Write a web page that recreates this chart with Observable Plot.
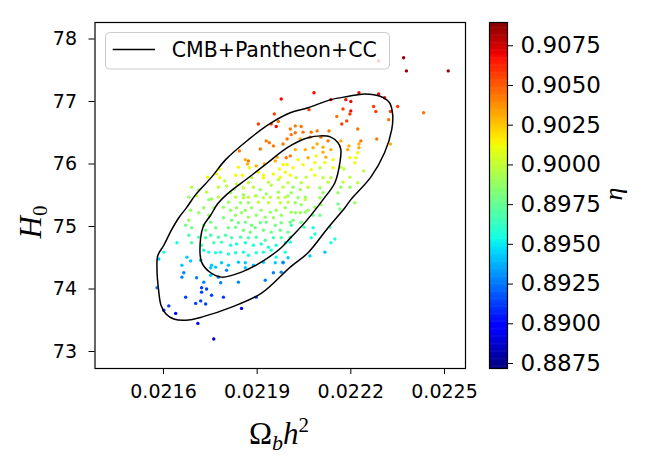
<!DOCTYPE html>
<html><head><meta charset="utf-8">
<script src="https://cdn.jsdelivr.net/npm/d3@7"></script>
<script src="https://cdn.jsdelivr.net/npm/@observablehq/plot@0.6"></script>
<style>
body{margin:0;background:#fff;}
#wrap{position:relative;width:650px;height:465px;overflow:hidden;}
#wrap > svg{position:absolute;left:0;top:0;}
</style></head><body><div id="wrap"></div>
<script>
// ---- data ----
const xTicks = [0.0216, 0.0219, 0.0222, 0.0225];
const yTicks = [73, 74, 75, 76, 77, 78];
const etaTicks = [0.8875, 0.8900, 0.8925, 0.8950, 0.8975, 0.9000, 0.9025, 0.9050, 0.9075];
const etaDomain = [0.887186, 0.908964];
const legendLabel = "CMB+Pantheon+CC";
// [Omega_b h^2, H0, eta]
const chainSamples = [
[0.022369,77.70,0.9085],[0.022378,77.49,0.9085],[0.022512,77.49,0.9085],[0.022289,77.65,0.9068],
[0.022082,77.14,0.9068],[0.022226,77.14,0.9068],[0.022289,77.12,0.9068],[0.022308,77.06,0.9068],
[0.022136,77.03,0.9068],[0.022184,77.03,0.9068],[0.022200,77.00,0.9068],[0.021977,77.04,0.9068],
[0.021955,76.80,0.9056],[0.022066,76.87,0.9056],[0.022175,76.88,0.9056],[0.022200,76.85,0.9068],
[0.022197,76.80,0.9056],[0.022273,76.92,0.9056],[0.022280,76.84,0.9056],[0.022327,76.84,0.9056],
[0.022350,76.92,0.9056],[0.022433,76.82,0.9043],[0.022155,76.76,0.9043],[0.022187,76.69,0.9056],
[0.022171,76.64,0.9056],[0.022321,76.71,0.9043],[0.021904,76.64,0.9056],[0.021945,76.64,0.9056],
[0.021968,76.68,0.9043],[0.021961,76.60,0.9068],[0.022222,76.56,0.9043],[0.022130,76.53,0.9043],
[0.022006,76.56,0.9043],[0.022041,76.60,0.9043],[0.022022,76.61,0.9043],[0.022047,76.51,0.9043],
[0.022022,76.50,0.9043],[0.022073,76.51,0.9043],[0.022092,76.53,0.9043],[0.022009,76.47,0.9043],
[0.021929,76.37,0.9043],[0.021939,76.34,0.9043],[0.021952,76.29,0.9043],[0.021910,76.24,0.9043],
[0.021996,76.40,0.9043],[0.021983,76.32,0.9043],[0.022283,76.40,0.9043],[0.022327,76.32,0.9030],
[0.022194,76.29,0.9030],[0.022226,76.32,0.9030],[0.022232,76.37,0.9043],[0.022168,76.37,0.9030],
[0.022038,76.40,0.9030],[0.022069,76.43,0.9043],[0.022104,76.43,0.9043],[0.022127,76.37,0.9043],
[0.022092,76.32,0.9030],[0.022111,76.27,0.9030],[0.022079,76.26,0.9030],[0.022054,76.23,0.9030],
[0.022022,76.23,0.9030],[0.021843,76.21,0.9043],[0.022136,76.23,0.9030],[0.022190,76.23,0.9030],
[0.022226,76.26,0.9030],[0.022111,76.19,0.9030],[0.022120,76.11,0.9030],[0.022089,76.13,0.9012],
[0.022063,76.10,0.9030],[0.022031,76.07,0.9012],[0.022006,76.13,0.9043],[0.021993,76.10,0.9043],
[0.021964,76.11,0.9030],[0.021958,76.05,0.9030],[0.022143,76.07,0.9012],[0.022117,76.02,0.9012],
[0.022085,76.02,0.9012],[0.022047,75.99,0.9012],[0.022015,75.94,0.9012],[0.022073,75.91,0.9012],
[0.022101,75.94,0.8998],[0.022168,75.95,0.8998],[0.022178,75.92,0.8998],[0.022143,75.94,0.9012],
[0.022197,76.10,0.9012],[0.022216,76.10,0.9012],[0.022222,76.18,0.9012],[0.021862,76.07,0.9030],
[0.021872,76.05,0.9043],[0.021869,76.00,0.9030],[0.021875,75.94,0.9012],[0.021840,75.95,0.9012],
[0.021780,75.92,0.9012],[0.021897,75.97,0.9030],[0.021923,76.00,0.9030],[0.021983,75.99,0.9012],
[0.021996,75.99,0.9012],[0.021971,75.92,0.9012],[0.022213,76.02,0.9012],[0.022241,75.89,0.8998],
[0.021741,75.79,0.9012],[0.021770,75.84,0.9012],[0.021780,75.78,0.9012],[0.021831,75.82,0.9012],
[0.021853,75.82,0.9012],[0.021990,75.87,0.9012],[0.021952,75.84,0.9012],[0.021920,75.82,0.9012],
[0.021904,75.87,0.9012],[0.021974,75.79,0.9012],[0.022006,75.82,0.9012],[0.021882,75.78,0.8998],
[0.021920,75.78,0.9012],[0.021936,75.71,0.8998],[0.021690,75.63,0.8998],[0.021713,75.59,0.8988],
[0.021776,75.63,0.8998],[0.021738,75.55,0.8998],[0.021872,75.70,0.8998],[0.021888,75.63,0.8998],
[0.021910,75.59,0.8988],[0.021945,75.66,0.8998],[0.021983,75.63,0.8998],[0.021999,75.70,0.8998],
[0.021815,75.54,0.8988],[0.021856,75.51,0.8988],[0.021897,75.49,0.8988],[0.021929,75.52,0.8988],
[0.021968,75.55,0.8988],[0.021999,75.49,0.8988],[0.021754,75.44,0.8988],[0.021706,75.49,0.8998],
[0.022197,75.79,0.8998],[0.022222,75.70,0.8998],[0.022175,75.71,0.8998],[0.022197,75.63,0.8988],
[0.022168,75.63,0.8988],[0.022136,75.78,0.8998],[0.022111,75.78,0.8998],[0.022127,75.71,0.8998],
[0.022085,75.82,0.9012],[0.022057,75.79,0.8998],[0.022025,75.78,0.8998],[0.022041,75.70,0.8998],
[0.022015,75.63,0.8988],[0.022063,75.63,0.8998],[0.022101,75.62,0.8988],[0.022111,75.54,0.8988],
[0.022038,75.59,0.8988],[0.022009,75.54,0.8988],[0.022054,75.47,0.8988],[0.022159,75.54,0.8988],
[0.021681,75.47,0.8988],[0.021796,75.73,0.8998],[0.021834,75.68,0.8998],[0.021856,75.62,0.8998],
[0.021827,75.60,0.8988],[0.021802,75.65,0.8998],[0.021968,75.75,0.8998],[0.021776,75.47,0.8998],
[0.021831,75.47,0.8998],[0.021856,75.46,0.8998],[0.021872,75.47,0.8998],[0.021894,75.49,0.8998],
[0.021920,75.46,0.8998],[0.021942,75.47,0.8998],[0.021968,75.46,0.8998],[0.021990,75.47,0.8998],
[0.021745,75.43,0.8988],[0.021808,75.39,0.8988],[0.021847,75.38,0.8988],[0.021872,75.38,0.8988],
[0.021904,75.39,0.8998],[0.021936,75.38,0.8998],[0.021974,75.38,0.8998],[0.021999,75.39,0.8998],
[0.021687,75.26,0.8988],[0.021729,75.30,0.8988],[0.021761,75.30,0.8988],[0.021792,75.31,0.8988],
[0.021815,75.26,0.8988],[0.021834,75.30,0.8988],[0.021862,75.26,0.8988],[0.021882,75.30,0.8988],
[0.021913,75.26,0.8988],[0.021942,75.23,0.8988],[0.021961,75.26,0.8988],[0.021990,75.30,0.8988],
[0.022009,75.23,0.8988],[0.021713,75.22,0.8988],[0.021745,75.18,0.8988],[0.021831,75.18,0.8988],
[0.021850,75.22,0.8988],[0.021872,75.15,0.8988],[0.021897,75.18,0.8988],[0.021926,75.15,0.8988],
[0.021952,75.14,0.8988],[0.021977,75.18,0.8988],[0.021671,75.02,0.8978],[0.021681,75.10,0.8988],
[0.021690,74.98,0.8978],[0.021729,75.02,0.8978],[0.021751,75.07,0.8978],[0.021792,75.14,0.8978],
[0.021818,75.10,0.8978],[0.021840,75.06,0.8978],[0.021862,75.07,0.8978],[0.021882,75.02,0.8978],
[0.021910,75.06,0.8978],[0.021929,75.07,0.8978],[0.021958,75.02,0.8978],[0.021977,75.06,0.8978],
[0.022006,75.07,0.8978],[0.021735,74.94,0.8978],[0.021767,74.98,0.8978],[0.021808,74.98,0.8978],
[0.021831,74.99,0.8978],[0.021856,74.94,0.8978],[0.021878,74.91,0.8978],[0.021894,74.98,0.8978],
[0.021920,74.94,0.8978],[0.021945,74.91,0.8978],[0.021974,74.94,0.8978],[0.021999,74.91,0.8978],
[0.021681,74.86,0.8967],[0.021713,74.83,0.8967],[0.021735,74.82,0.8967],[0.021751,74.86,0.8967],
[0.021776,74.83,0.8967],[0.021799,74.86,0.8967],[0.021818,74.82,0.8967],[0.021847,74.83,0.8967],
[0.021872,74.82,0.8967],[0.021897,74.83,0.8967],[0.021926,74.78,0.8967],[0.021952,74.82,0.8967],
[0.021977,74.82,0.8967],[0.022006,74.83,0.8967],[0.021643,74.74,0.8955],[0.021690,74.74,0.8967],
[0.021722,74.70,0.8967],[0.021761,74.74,0.8967],[0.021786,74.75,0.8967],[0.021815,74.70,0.8955],
[0.021834,74.72,0.8955],[0.021862,74.74,0.8955],[0.021888,74.70,0.8955],[0.021913,74.72,0.8955],
[0.021936,74.67,0.8955],[0.021961,74.70,0.8955],[0.021990,74.74,0.8955],[0.021601,74.59,0.8955],
[0.021729,74.62,0.8955],[0.021745,74.59,0.8955],[0.021767,74.58,0.8955],[0.021783,74.59,0.8955],
[0.021808,74.56,0.8955],[0.021831,74.58,0.8955],[0.021856,74.59,0.8955],[0.021872,74.54,0.8955],
[0.021897,74.58,0.8955],[0.021920,74.59,0.8955],[0.021945,74.62,0.8955],[0.021961,74.51,0.8955],
[0.021990,74.59,0.8955],[0.021675,74.51,0.8942],[0.021687,74.45,0.8942],[0.021659,74.38,0.8942],
[0.021585,74.48,0.8942],[0.021719,74.46,0.8942],[0.021754,74.38,0.8942],[0.021767,74.35,0.8942],
[0.021751,74.34,0.8942],[0.021786,74.42,0.8942],[0.021808,74.38,0.8942],[0.021840,74.43,0.8942],
[0.021862,74.42,0.8942],[0.021888,74.38,0.8942],[0.021920,74.43,0.8942],[0.021958,74.42,0.8942],
[0.021983,74.43,0.8942],[0.021665,74.26,0.8927],[0.021659,74.19,0.8927],[0.021706,74.18,0.8927],
[0.021729,74.11,0.8927],[0.021751,74.22,0.8942],[0.021776,74.19,0.8927],[0.021802,74.30,0.8927],
[0.021862,74.34,0.8942],[0.021952,74.26,0.8927],[0.021977,74.27,0.8927],[0.021783,74.10,0.8927],
[0.021840,74.11,0.8927],[0.021926,74.14,0.8927],[0.021579,74.02,0.8927],[0.021722,74.02,0.8912],
[0.021738,74.00,0.8912],[0.021722,73.95,0.8912],[0.021671,73.87,0.8912],[0.021754,73.90,0.8912],
[0.021792,73.87,0.8912],[0.021897,73.87,0.8912],[0.021719,73.81,0.8912],[0.021703,73.77,0.8912],
[0.021735,73.76,0.8912],[0.021617,73.73,0.8912],[0.021601,73.66,0.8912],[0.021639,73.61,0.8900],
[0.021850,73.69,0.8900],[0.021710,73.45,0.8900],[0.021761,73.20,0.8885],[0.022031,75.46,0.8988],
[0.022054,75.43,0.8998],[0.022101,75.46,0.8988],[0.022022,75.38,0.8988],[0.022041,75.35,0.8988],
[0.022085,75.31,0.8988],[0.022104,75.35,0.8988],[0.022159,75.36,0.8978],[0.022165,75.28,0.8978],
[0.022213,75.38,0.8988],[0.022022,75.22,0.8988],[0.022038,75.22,0.8988],[0.022054,75.23,0.8988],
[0.022063,75.26,0.8988],[0.022079,75.18,0.8978],[0.022101,75.18,0.8978],[0.022015,75.10,0.8978],
[0.022041,75.07,0.8978],[0.022050,74.99,0.8967],[0.022009,75.02,0.8967],[0.022079,74.98,0.8955],
[0.022085,74.88,0.8955],[0.022073,74.82,0.8955],[0.022133,74.99,0.8967],[0.022149,74.80,0.8955],
[0.022136,74.74,0.8955],[0.022006,74.75,0.8955],[0.022117,74.59,0.8942],[0.022069,74.53,0.8942],
[0.021999,74.50,0.8942],[0.021983,74.42,0.8927]
];
// confidence contours [Omega_b h^2, H0]
const contour95 = [
[0.021579,74.34],[0.021582,74.54],[0.021601,74.70],[0.021624,74.93],[0.021649,75.14],[0.021675,75.31],
[0.021703,75.51],[0.021754,75.79],[0.021799,76.07],[0.021872,76.39],[0.021936,76.63],[0.022006,76.82],
[0.022063,76.90],[0.022136,77.03],[0.022190,77.08],[0.022245,77.12],[0.022296,77.08],[0.022324,76.98],
[0.022334,76.79],[0.022331,76.55],[0.022308,76.18],[0.022264,75.79],[0.022200,75.43],[0.022181,75.30],
[0.022127,74.98],[0.022063,74.58],[0.022006,74.35],[0.021913,73.93],[0.021818,73.71],[0.021722,73.55],
[0.021671,73.50],[0.021633,73.52],[0.021608,73.60],[0.021592,73.74],[0.021585,73.95]
];
const contour68 = [
[0.021722,74.43],[0.021719,74.82],[0.021729,75.02],[0.021751,75.18],[0.021773,75.36],[0.021802,75.51],
[0.021872,75.78],[0.021926,75.99],[0.021999,76.27],[0.022063,76.42],[0.022104,76.45],[0.022136,76.43],
[0.022159,76.34],[0.022168,76.23],[0.022165,76.02],[0.022149,75.70],[0.022111,75.43],[0.022054,75.07],
[0.022009,74.83],[0.021977,74.66],[0.021913,74.43],[0.021850,74.27],[0.021786,74.19],[0.021751,74.26]
];

// ---- jet colormap (matplotlib segment data) ----
function jet(t){
  t = Math.max(0, Math.min(1, t));
  const seg = (pts) => { for (let i = 1; i < pts.length; i++) { if (t <= pts[i][0]) { const [a, va] = pts[i-1], [b, vb] = pts[i]; return va + (vb - va) * (t - a) / (b - a); } } return pts[pts.length-1][1]; };
  const r = seg([[0,0],[0.35,0],[0.66,1],[0.89,1],[1,0.5]]);
  const g = seg([[0,0],[0.125,0],[0.375,1],[0.64,1],[0.91,0],[1,0]]);
  const b = seg([[0,0.5],[0.11,1],[0.34,1],[0.65,0],[1,0]]);
  return `rgb(${Math.round(r*255)},${Math.round(g*255)},${Math.round(b*255)})`;
}
const colorScale = {type: "linear", domain: etaDomain, interpolate: jet};

const wrap = document.getElementById("wrap");

const main = Plot.plot({
  width: 650, height: 465,
  marginLeft: 94.5, marginRight: 185, marginTop: 22, marginBottom: 97,
  x: {domain: [0.0213806, 0.0225673]},
  y: {domain: [72.728, 78.264]},
  color: colorScale,
  style: {background: "transparent", fontFamily: "'DejaVu Sans', sans-serif", fontSize: "19px", color: "black", overflow: "visible"},
  marks: [
    Plot.dot(chainSamples, {x: d => d[0], y: d => d[1], fill: d => d[2], r: 1.7}),
    Plot.line(contour95, {x: d => d[0], y: d => d[1], curve: "catmull-rom-closed", stroke: "black", strokeWidth: 1.5}),
    Plot.line(contour68, {x: d => d[0], y: d => d[1], curve: "catmull-rom-closed", stroke: "black", strokeWidth: 1.5}),
    Plot.frame({stroke: "black", strokeWidth: 1.2}),
    Plot.axisX({ticks: xTicks, tickFormat: d => d.toFixed(4), tickSize: 6, tickPadding: 10, label: null, fontSize: 19}),
    Plot.axisY({ticks: yTicks, tickFormat: d => String(d), tickSize: 6, tickPadding: 12, label: null, fontSize: 19})
  ]
});
wrap.appendChild(main);

const steps = d3.range(0, 300).map(i => [etaDomain[0] + (etaDomain[1]-etaDomain[0]) * i / 300, etaDomain[0] + (etaDomain[1]-etaDomain[0]) * (i + 1.5) / 300]);
const cbar = Plot.plot({
  width: 650, height: 465,
  marginLeft: 489, marginRight: 143, marginTop: 22, marginBottom: 97,
  x: {domain: [0, 1], axis: null},
  y: {domain: etaDomain, axis: null},
  color: colorScale,
  style: {background: "transparent", fontFamily: "'DejaVu Sans', sans-serif", fontSize: "23px", color: "black", overflow: "visible"},
  marks: [
    Plot.rect(steps, {x1: 0, x2: 1, y1: d => d[0], y2: d => Math.min(d[1], etaDomain[1]), fill: d => d[0]}),
    Plot.frame({stroke: "black", strokeWidth: 1.2}),
    Plot.axisY({anchor: "right", ticks: etaTicks, tickFormat: d => d.toFixed(4), tickSize: 5, tickPadding: 8, label: null, fontSize: 23})
  ]
});
wrap.appendChild(cbar);

// legend, axis labels
const svg = d3.select(cbar);
const lg = svg.append("g").attr("text-anchor", "start");
lg.append("rect").attr("x", 105.5).attr("y", 32.5).attr("width", 284).attr("height", 36.5).attr("rx", 4)
  .attr("fill", "white").attr("fill-opacity", 0.8).attr("stroke", "#cccccc").attr("stroke-width", 1);
lg.append("line").attr("x1", 112.7).attr("x2", 155).attr("y1", 49.5).attr("y2", 49.5).attr("stroke", "black").attr("stroke-width", 1.4);
lg.append("text").attr("x", 171.7).attr("y", 56.7).attr("text-anchor", "start").attr("font-family", "'DejaVu Sans', sans-serif").attr("font-size", 20.5).attr("fill", "black").text(legendLabel);

const serif = "'Liberation Serif', 'DejaVu Serif', serif";
const xl = svg.append("text").attr("x", 279).attr("y", 444).attr("text-anchor", "middle").attr("font-family", serif).attr("font-size", 31).attr("fill", "black");
xl.append("tspan").text("Ω");
xl.append("tspan").attr("font-style", "italic").attr("font-size", 22).attr("dy", 6).text("b");
xl.append("tspan").attr("font-style", "italic").attr("dy", -6).text("h");
xl.append("tspan").attr("font-size", 21).attr("dy", -12).text("2");

const yl = svg.append("text").attr("transform", "translate(41,222) rotate(-90)").attr("text-anchor", "middle").attr("font-family", serif).attr("font-size", 31).attr("fill", "black");
yl.append("tspan").attr("font-style", "italic").text("H");
yl.append("tspan").attr("font-size", 21).attr("dy", 6).text("0");

svg.append("text").attr("transform", "translate(622,194) rotate(-90)").attr("text-anchor", "middle").attr("font-family", serif).attr("font-style", "italic").attr("font-size", 26).attr("fill", "black").text("η");
</script></body></html>
